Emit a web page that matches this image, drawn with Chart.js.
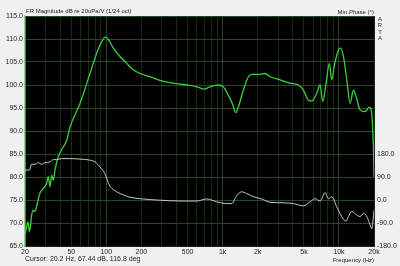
<!DOCTYPE html>
<html>
<head>
    <title>FR Magnitude</title>
    <script src="https://cdn.jsdelivr.net/npm/chart.js"></script>
    <style>
        body { margin: 0; background: #f0f0f0; }
        #wrap { width: 400px; height: 266px; }
    </style>
</head>
<body>
    <div id="wrap"><canvas id="frChart"></canvas></div>
    <script>
        // magnitude curve (Hz, dB)
        const magFreqs = [20, 20.7, 21.2, 21.8, 23.3, 24.4, 25.5, 26.9, 28.7, 30.7, 31.7, 32.8, 33.9, 35, 36.2, 38.6, 41.4, 45.7, 48.8, 59.4,
            72.4, 82.7, 91.3, 97.5, 104, 115, 131, 150, 165, 195, 238, 290, 353, 430, 524, 618, 692, 779, 918, 1014,
            1119, 1222, 1296, 1366, 1508, 1665, 1780, 2098, 2316, 2558, 3116, 3799, 4478, 4943, 5459, 5838, 6447, 6882, 7257, 7746,
            8270, 8671, 9132, 9886, 10364, 10916, 11672, 12460, 13312, 14030, 15180, 16770, 18240, 18880, 19760, 20000];
        const magValues = [67.5, 69.2, 70.3, 68.1, 72.8, 72.5, 74.3, 76.5, 77.5, 78.6, 80.1, 77.9, 80.4, 79.3, 81.5, 84.4, 86.0, 88.0, 90.9, 96.0,
            102.5, 106.9, 109.4, 110.4, 109.9, 108.0, 106.2, 104.7, 103.6, 102.5, 101.8, 101.0, 100.5, 100.2, 99.9, 99.5, 99.1, 99.6, 100.0, 99.6,
            97.8, 95.7, 94.0, 95.3, 98.9, 101.8, 102.3, 102.3, 102.5, 101.8, 101.1, 100.4, 100.0, 98.9, 96.7, 96.5, 98.2, 100.0, 96.4, 100.4,
            104.7, 101.1, 104.3, 107.6, 108.0, 106.2, 101.1, 96.0, 98.9, 97.5, 94.6, 94.2, 95.2, 94.6, 86.6, 80.0];

        // minimum phase curve (Hz, deg)
        const phaseFreqs = [20, 21.8, 22.8, 24.4, 26, 27.8, 29.7, 32.8, 35, 37.5, 41.4, 48.8, 59.4, 70, 80, 88, 97, 106, 123, 140,
            160, 195, 271, 430, 598, 730, 889, 1084, 1197, 1304, 1458, 1610, 1837, 2168, 2558, 3326, 4056, 4943, 5645, 6232,
            6882, 7597, 8108, 8671, 9572, 10572, 11508, 12052, 12890, 14230, 15180, 16210, 17340, 18500, 19140, 20000];
        const phaseValues = [117, 117, 140, 140, 146, 140, 146, 149, 158, 158, 162, 162, 160, 157, 149, 130, 104, 59, 32, 20,
            11, 5, 0, -4, -4, 4, -7, -14, -14, 13, 32, 25, 13, 4, -9, -11, -14, -23, -7, 5,
            -4, 29, 5, 13, -27, -65, -83, -65, -45, -59, -65, -52, -65, -97, -112, -40];

        const freqGrid = [20, 30, 40, 50, 60, 70, 80, 90, 100, 200, 300, 400, 500, 600, 700, 800, 900,
            1000, 2000, 3000, 4000, 5000, 6000, 7000, 8000, 9000, 10000, 20000];
        const freqLabels = { 20: '20', 50: '50', 100: '100', 200: '200', 500: '500', 1000: '1k', 2000: '2k',
            5000: '5k', 10000: '10k', 20000: '20k' };
        const phaseTicks = [-180, -90, 0, 90, 180];

        const FONT = 'Arial, "Liberation Sans", sans-serif';
        // decade lines a bit brighter than the rest
        const xGridColors = freqGrid.map(v => [100, 1000, 10000].includes(v) ? '#27452a' : '#162a17');

        const frame = {
            id: 'frame',
            beforeDraw(chart) {
                const c = chart.ctx, a = chart.chartArea;
                c.save();
                c.fillStyle = '#f0f0f0';
                c.fillRect(0, 0, chart.width, chart.height);
                c.fillStyle = '#000';
                c.fillRect(a.left, a.top, a.right - a.left, a.bottom - a.top);
                c.restore();
            },
            afterDraw(chart) {
                const c = chart.ctx, a = chart.chartArea;
                c.save();
                c.fillStyle = '#222';
                c.textBaseline = 'middle';
                c.font = '6px ' + FONT;
                c.textAlign = 'left';
                c.fillText('FR Magnitude dB re 20uPa/V (1/24 oct)', a.left + 1, 11);
                c.textAlign = 'right';
                c.fillText('Min.Phase (\u00b0)', a.right, 12);
                c.fillText('Frequency (Hz)', a.right, 260);
                c.textAlign = 'center';
                ['A', 'R', 'T', 'A'].forEach((ch, i) => c.fillText(ch, 380, 19 + i * 6.5));
                c.font = '7px ' + FONT;
                c.textAlign = 'left';
                c.fillText('Cursor: 20.2 Hz, 67.44 dB, 116.8 deg', a.left, 259);
                c.restore();
            }
        };

        const ctx = document.getElementById('frChart').getContext('2d');
        const frChart = new Chart(ctx, {
            type: 'line',
            data: {
                datasets: [{
                    label: 'Min Phase',
                    data: phaseFreqs.map((f, i) => ({ x: f, y: phaseValues[i] })),
                    yAxisID: 'y1',
                    borderColor: '#c8c8c8',
                    borderWidth: 1,
                    pointRadius: 0,
                    cubicInterpolationMode: 'monotone'
                }, {
                    label: 'FR Magnitude',
                    data: magFreqs.map((f, i) => ({ x: f, y: magValues[i] })),
                    yAxisID: 'y',
                    borderColor: '#3ccf3c',
                    borderWidth: 1.3,
                    pointRadius: 0,
                    cubicInterpolationMode: 'monotone'
                }]
            },
            options: {
                responsive: true,
                maintainAspectRatio: false,
                animation: false,
                layout: { padding: { top: 16, left: 0, right: 0, bottom: 0 } },
                plugins: { legend: { display: false }, tooltip: { enabled: false } },
                scales: {
                    x: {
                        type: 'logarithmic',
                        min: 20,
                        max: 20000,
                        afterBuildTicks: (axis) => { axis.ticks = freqGrid.map(v => ({ value: v })); },
                        afterFit: (axis) => { axis.height = 20; },
                        ticks: {
                            autoSkip: false,
                            maxRotation: 0,
                            padding: 2,
                            color: '#222',
                            font: { family: FONT, size: 7 },
                            callback: (v) => freqLabels[v] || ''
                        },
                        grid: { drawTicks: false, color: xGridColors },
                        border: { color: '#162a17' }
                    },
                    y: {
                        position: 'left',
                        min: 65,
                        max: 115,
                        afterFit: (axis) => { axis.width = 25; },
                        ticks: {
                            stepSize: 5,
                            padding: 2,
                            color: '#222',
                            font: { family: FONT, size: 7 },
                            callback: (v) => v.toFixed(1)
                        },
                        grid: { drawTicks: false, color: '#234a23' },
                        border: { color: '#8fd08f', width: 1.5 }
                    },
                    y1: {
                        position: 'right',
                        min: -180,
                        max: 720,
                        afterBuildTicks: (axis) => { axis.ticks = phaseTicks.map(v => ({ value: v })); },
                        afterFit: (axis) => { axis.width = 26; },
                        ticks: {
                            padding: 3,
                            color: '#222',
                            font: { family: FONT, size: 7 },
                            callback: (v) => v.toFixed(1)
                        },
                        grid: { display: false, drawTicks: false },
                        border: { display: false }
                    }
                }
            },
            plugins: [frame]
        });
    </script>
</body>
</html>
